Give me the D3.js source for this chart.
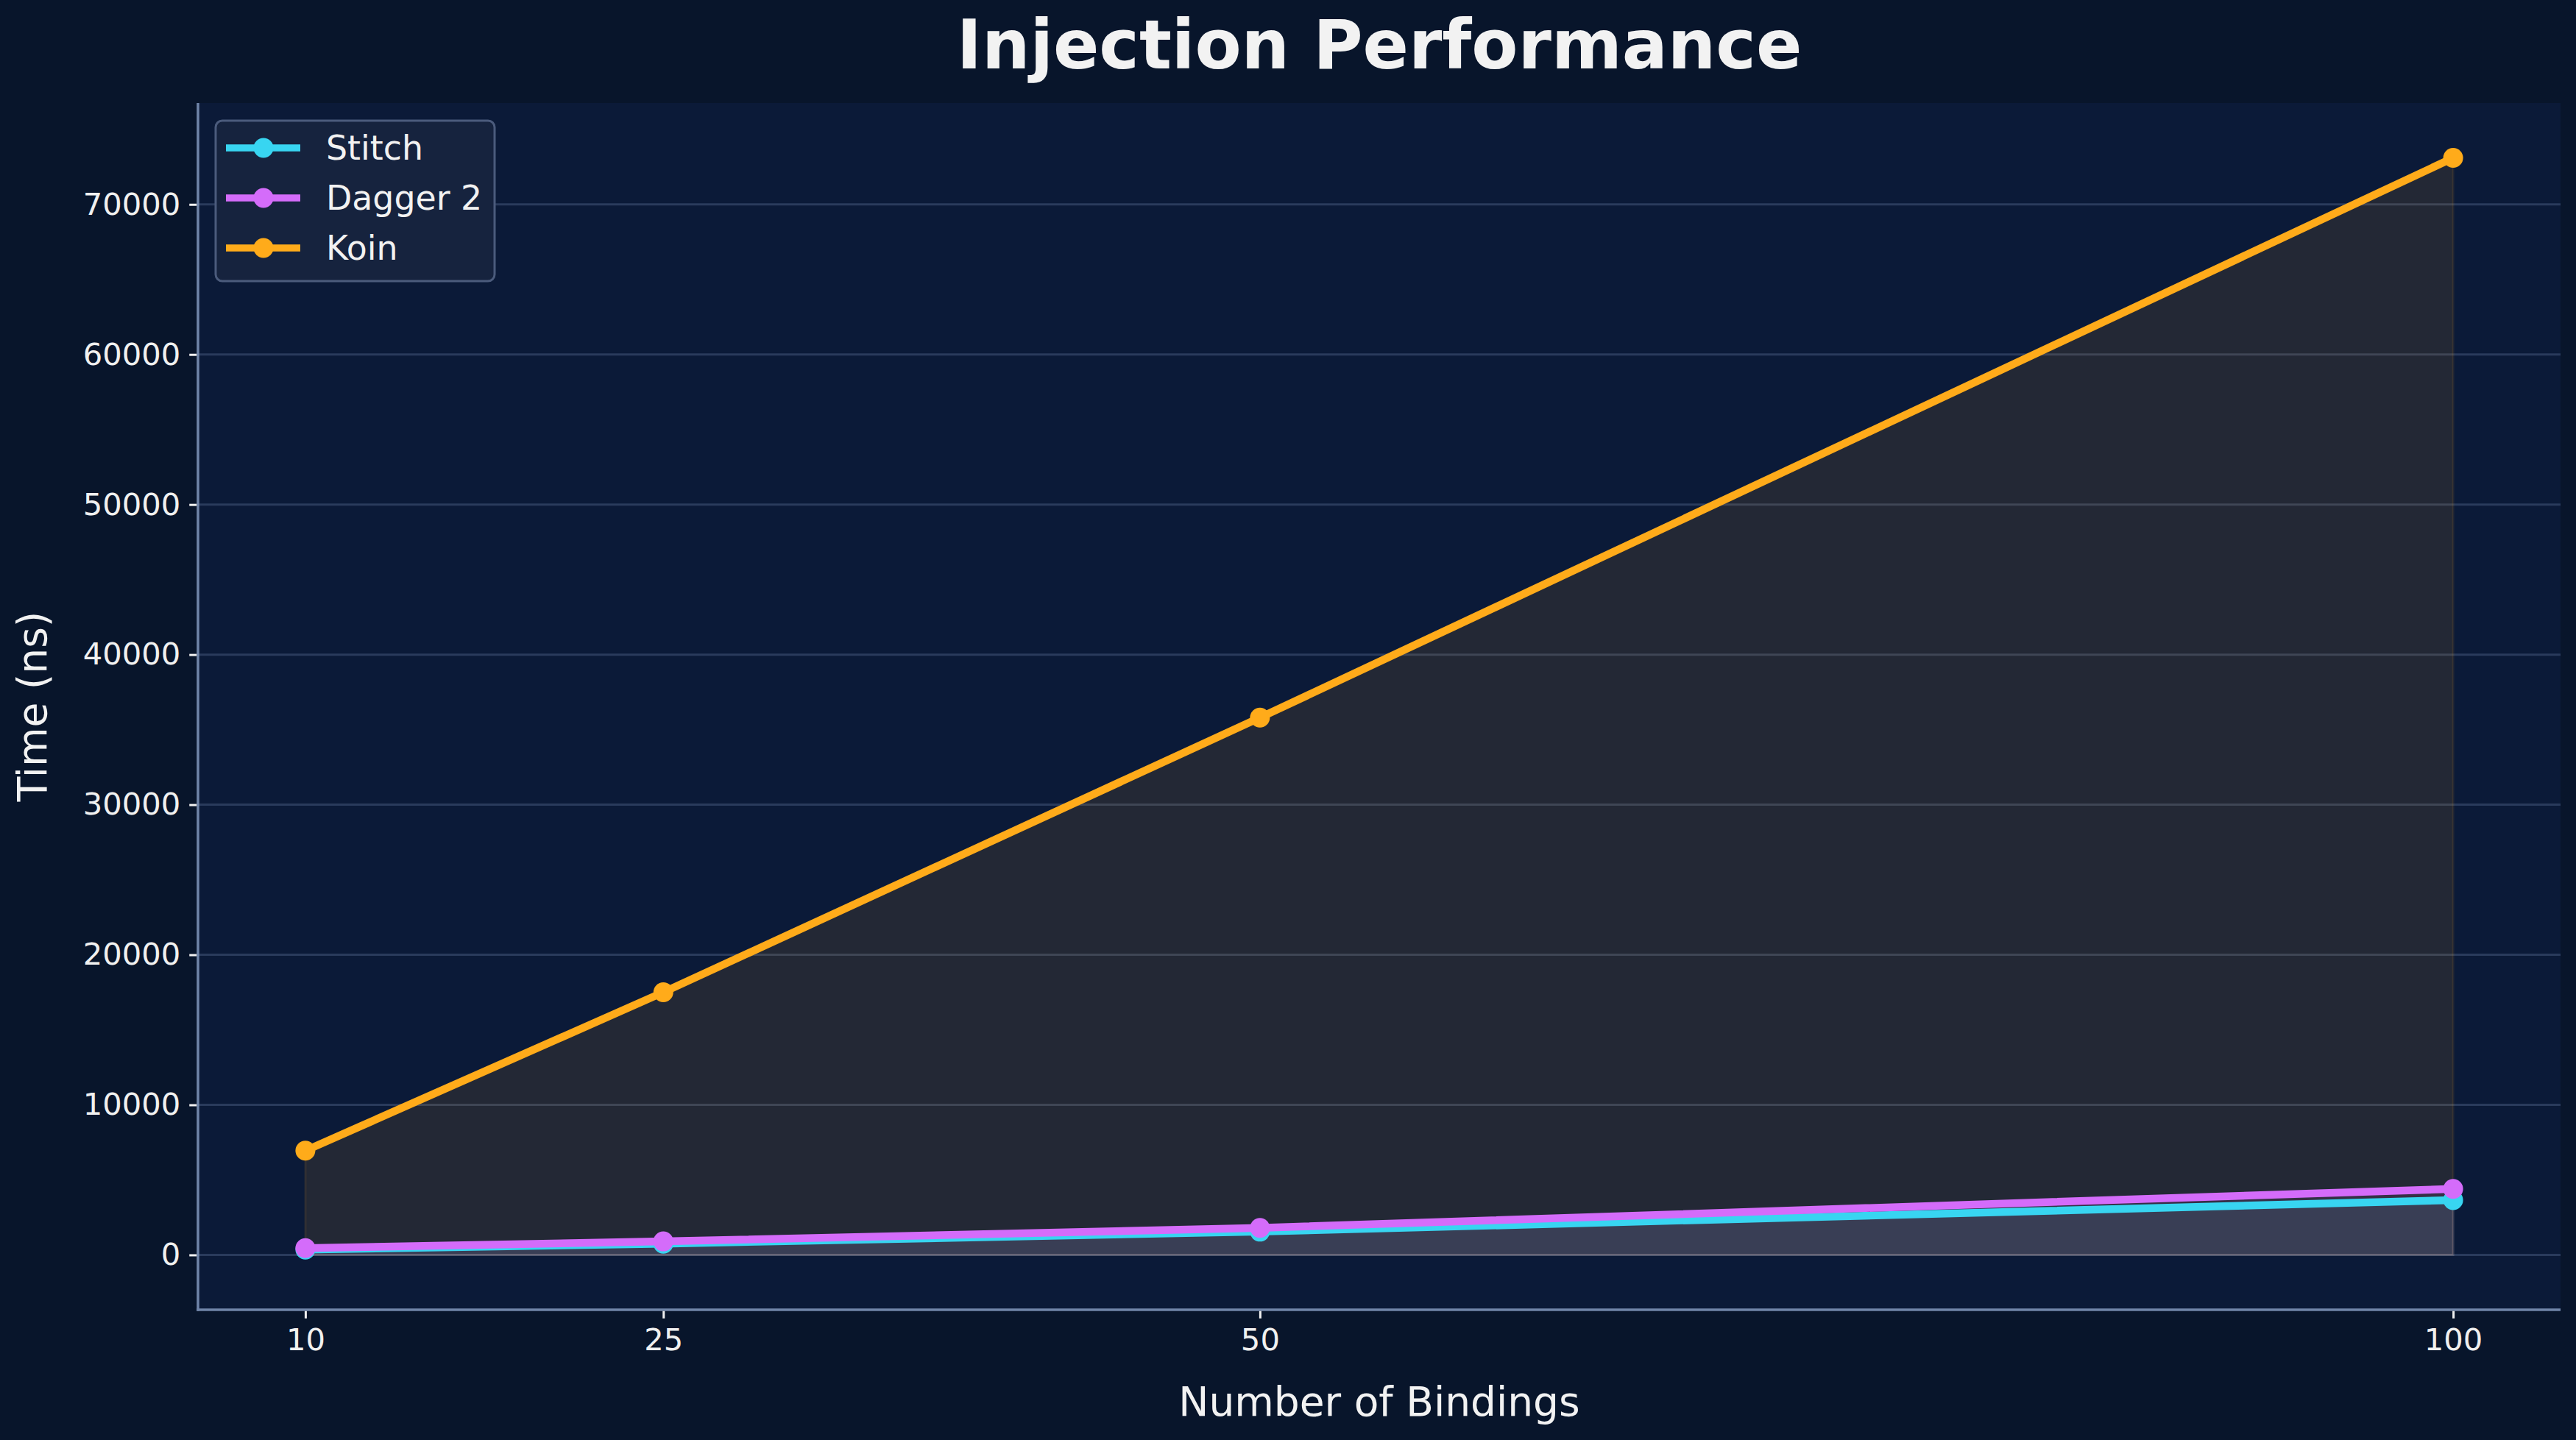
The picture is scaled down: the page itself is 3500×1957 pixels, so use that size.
<!DOCTYPE html>
<html>
<head>
<meta charset="utf-8">
<script src="https://cdn.jsdelivr.net/npm/d3@7"></script>
<style>
  html, body { margin: 0; padding: 0; background: #08152b; }
  svg { display: block; font-family: "DejaVu Sans", sans-serif; }
</style>
</head>
<body>
<div id="chart"></div>
<script>
const bindings = [10, 25, 50, 100];
const stitchTimes = [350, 750, 1550, 3650];
const daggerTimes = [450, 900, 1800, 4400];
const koinTimes = [6950, 17500, 35800, 73100];
const seriesNames = ["Stitch", "Dagger 2", "Koin"];
const seriesColors = ["#38d5f1", "#d46cfa", "#ffab1a"];
const yTicks = [0, 10000, 20000, 30000, 40000, 50000, 60000, 70000];

const width = 3500;
const height = 1957;
const plot = { left: 269, right: 3479, top: 140, bottom: 1780 };

const series = [stitchTimes, daggerTimes, koinTimes].map((vals, i) => ({
  name: seriesNames[i],
  color: seriesColors[i],
  points: bindings.map((b, j) => ({ x: b, y: vals[j] })),
}));

// matplotlib style 5% margins
const xPad = (d3.max(bindings) - d3.min(bindings)) * 0.05;
const yMax = d3.max(koinTimes);
const yPad = yMax * 0.05;

const x = d3
  .scaleLinear()
  .domain([d3.min(bindings) - xPad, d3.max(bindings) + xPad])
  .range([plot.left, plot.right]);

const y = d3
  .scaleLinear()
  .domain([-yPad, yMax + yPad])
  .range([plot.bottom, plot.top]);

const svg = d3
  .select("#chart")
  .append("svg")
  .attr("width", width)
  .attr("height", height);

svg.append("rect").attr("width", width).attr("height", height).attr("fill", "#08152b");

svg
  .append("rect")
  .attr("x", plot.left)
  .attr("y", plot.top)
  .attr("width", plot.right - plot.left)
  .attr("height", plot.bottom - plot.top)
  .attr("fill", "#0b1a38");

// horizontal grid
svg
  .append("g")
  .selectAll("line")
  .data(yTicks)
  .enter()
  .append("line")
  .attr("x1", plot.left)
  .attr("x2", plot.right)
  .attr("y1", (d) => y(d))
  .attr("y2", (d) => y(d))
  .attr("stroke", "#2a3b5c")
  .attr("stroke-width", 3);

const area = d3
  .area()
  .x((d) => x(d.x))
  .y0(y(0))
  .y1((d) => y(d.y));

const line = d3
  .line()
  .x((d) => x(d.x))
  .y((d) => y(d.y));

svg
  .append("g")
  .selectAll("path")
  .data(series)
  .enter()
  .append("path")
  .attr("d", (d) => area(d.points))
  .attr("fill", (d) => d.color)
  .attr("fill-opacity", 0.1)
  .attr("stroke", (d) => d.color)
  .attr("stroke-opacity", 0.1)
  .attr("stroke-width", 3);

series.forEach((s) => {
  svg
    .append("path")
    .attr("d", line(s.points))
    .attr("fill", "none")
    .attr("stroke", s.color)
    .attr("stroke-width", 10.5)
    .attr("stroke-linejoin", "round")
    .attr("stroke-linecap", "butt");

  svg
    .append("g")
    .selectAll("circle")
    .data(s.points)
    .enter()
    .append("circle")
    .attr("cx", (d) => x(d.x))
    .attr("cy", (d) => y(d.y))
    .attr("r", 13.5)
    .attr("fill", s.color);
});

// spines (left & bottom only)
svg
  .append("line")
  .attr("x1", plot.left)
  .attr("x2", plot.left)
  .attr("y1", plot.top)
  .attr("y2", plot.bottom + 1.75)
  .attr("stroke", "#7085a9")
  .attr("stroke-width", 3.5);
svg
  .append("line")
  .attr("x1", plot.left - 1.75)
  .attr("x2", plot.right)
  .attr("y1", plot.bottom)
  .attr("y2", plot.bottom)
  .attr("stroke", "#7085a9")
  .attr("stroke-width", 3.5);

// y axis
const yAxis = d3.axisLeft(y).tickValues(yTicks).tickSize(10).tickPadding(12).tickFormat(d3.format("d"));
const gy = svg
  .append("g")
  .attr("transform", `translate(${plot.left - 1.75},0)`)
  .call(yAxis);
gy.select(".domain").remove();
gy.selectAll(".tick line").attr("stroke", "#f0f0f0").attr("stroke-width", 3);
gy.selectAll(".tick text")
  .attr("fill", "#f0f0f0")
  .attr("font-size", 41.7)
  .attr("font-family", "DejaVu Sans");

// x axis
const xAxis = d3.axisBottom(x).tickValues(bindings).tickSize(10).tickPadding(14).tickFormat(d3.format("d"));
const gx = svg
  .append("g")
  .attr("transform", `translate(0,${plot.bottom + 1.75})`)
  .call(xAxis);
gx.select(".domain").remove();
gx.selectAll(".tick line").attr("stroke", "#f0f0f0").attr("stroke-width", 3);
gx.selectAll(".tick text")
  .attr("fill", "#f0f0f0")
  .attr("font-size", 41.7)
  .attr("font-family", "DejaVu Sans");

// title and axis labels
svg
  .append("text")
  .attr("x", (plot.left + plot.right) / 2)
  .attr("y", 93)
  .attr("text-anchor", "middle")
  .attr("font-size", 92)
  .attr("font-weight", "bold")
  .attr("fill", "#f2f2f2")
  .text("Injection Performance");

svg
  .append("text")
  .attr("x", (plot.left + plot.right) / 2)
  .attr("y", 1924)
  .attr("text-anchor", "middle")
  .attr("font-size", 55)
  .attr("fill", "#f2f2f2")
  .text("Number of Bindings");

svg
  .append("text")
  .attr("transform", `translate(63,${(plot.top + plot.bottom) / 2}) rotate(-90)`)
  .attr("text-anchor", "middle")
  .attr("font-size", 55)
  .attr("fill", "#f2f2f2")
  .text("Time (ns)");

// legend
const legend = svg.append("g");
legend
  .append("rect")
  .attr("x", 293)
  .attr("y", 164)
  .attr("width", 379)
  .attr("height", 218)
  .attr("rx", 9)
  .attr("fill", "#16233e")
  .attr("stroke", "#4b5b7c")
  .attr("stroke-width", 3);

const rowY = d3.scalePoint().domain(seriesNames).range([201, 337]);
const rows = legend
  .selectAll("g.row")
  .data(series)
  .enter()
  .append("g")
  .attr("class", "row")
  .attr("transform", (d) => `translate(0,${rowY(d.name)})`);
rows
  .append("line")
  .attr("x1", 307)
  .attr("x2", 408)
  .attr("stroke", (d) => d.color)
  .attr("stroke-width", 9.5);
rows
  .append("circle")
  .attr("cx", 358)
  .attr("r", 13.5)
  .attr("fill", (d) => d.color);
rows
  .append("text")
  .attr("x", 443)
  .attr("y", 16)
  .attr("font-size", 45.8)
  .attr("fill", "#f2f2f2")
  .text((d) => d.name);
</script>
</body>
</html>
